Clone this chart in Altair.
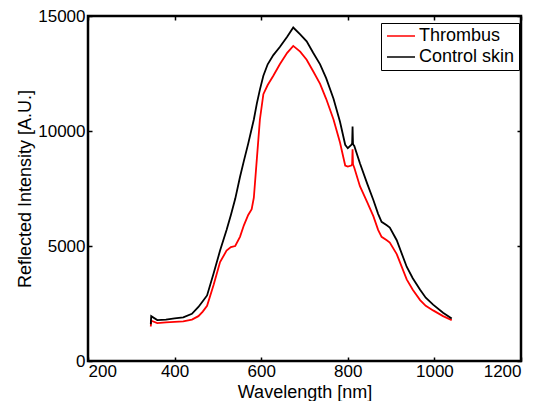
import altair as alt
import pandas as pd

# Values
wavelength = [345, 346, 360, 380, 400, 420, 440, 455, 465, 475, 490, 505, 520, 530,
              540, 551, 560, 570, 578, 583, 590, 597, 605, 615, 628, 643, 660, 674,
              690, 705, 720, 736, 750, 767, 782, 794, 800, 808, 810, 811, 812, 813,
              815, 828, 845, 859, 870, 878, 890, 897, 913, 936, 950, 967, 980, 997,
              1020, 1040]
thrombus = [1500, 1750, 1650, 1680, 1700, 1720, 1800, 1950, 2150, 2400, 3300, 4300, 4800, 4950,
            5000, 5400, 5900, 6350, 6600, 7100, 8800, 10500, 11600, 12000, 12400, 12900, 13400, 13700,
            13450, 13100, 12600, 12050, 11400, 10500, 9500, 8500, 8450, 8500, 8550, 9200, 8550, 8500,
            8400, 7600, 6900, 6300, 5700, 5400, 5250, 5150, 4650, 3550, 3100, 2650, 2400, 2200,
            1950, 1780]
control_skin = [1600, 1950, 1780, 1800, 1850, 1900, 2050, 2350, 2600, 2850, 3800, 4800, 5700, 6350,
                7050, 8000, 8700, 9450, 10100, 10500, 11200, 11800, 12400, 12900, 13300, 13650, 14100, 14500,
                14200, 13900, 13400, 12900, 12300, 11400, 10400, 9400, 9250, 9400, 9450, 10200, 9450, 9400,
                9350, 8600, 7700, 7000, 6400, 6050, 5900, 5800, 5250, 4100, 3600, 3100, 2750, 2450,
                2100, 1850]
series_names = ["Thrombus", "Control skin"]
series_colors = ["#ff0000", "#000000"]
x_ticks = [200, 400, 600, 800, 1000, 1200]
y_ticks = [0, 5000, 10000, 15000]

rows = []
for name, vals in zip(series_names, [thrombus, control_skin]):
    for w, v in zip(wavelength, vals):
        rows.append({"Wavelength": w, "Intensity": v, "Series": name})
df = pd.DataFrame(rows)

FONT = "Liberation Sans"
x_scale = alt.Scale(domain=[200, 1200], nice=False, zero=False)
y_scale = alt.Scale(domain=[0, 15000], nice=False)

lines = alt.Chart(df).mark_line(strokeWidth=1.8).encode(
    x=alt.X("Wavelength:Q", scale=x_scale,
            axis=alt.Axis(title="Wavelength [nm]", values=x_ticks, orient="bottom",
                          offset=-4, tickSize=4, domain=False, grid=False,
                          labelPadding=2, titlePadding=4, format="d")),
    y=alt.Y("Intensity:Q", scale=y_scale,
            axis=alt.Axis(title="Reflected Intensity [A.U.]", values=y_ticks, orient="left",
                          offset=-4, tickSize=4, domain=False, grid=False,
                          labelPadding=3, titlePadding=3, format="d")),
    color=alt.Color("Series:N",
                    scale=alt.Scale(domain=series_names, range=series_colors),
                    legend=alt.Legend(title=None, orient="none", legendX=293, legendY=7,
                                      symbolType="M-1,0L3,0", symbolSize=196,
                                      symbolStrokeWidth=1.5, labelFontSize=18,
                                      labelFont=FONT, labelColor="black",
                                      strokeColor="black", fillColor="white",
                                      padding=4, rowPadding=3, labelOffset=16)),
)

ticks = alt.Chart(df).mark_line(opacity=0).encode(
    x=alt.X("Wavelength:Q", scale=x_scale,
            axis=alt.Axis(title=None, values=x_ticks, orient="top", offset=-4, tickSize=4,
                          labels=False, domain=False, grid=False)),
    y=alt.Y("Intensity:Q", scale=y_scale,
            axis=alt.Axis(title=None, values=y_ticks, orient="right", offset=-4, tickSize=4,
                          labels=False, domain=False, grid=False)),
    detail="Series:N",
)

chart = alt.layer(lines, ticks).resolve_axis(
    x="independent", y="independent"
).properties(
    width=433, height=345,
    padding={"left": 80, "top": 8, "right": 13, "bottom": 40},
    autosize=alt.AutoSizeParams(type="none"),
).configure_view(
    stroke="black", strokeWidth=2.5
).configure_axis(
    labelFont=FONT, titleFont=FONT, labelFontSize=17, titleFontSize=18,
    titleFontWeight="normal", labelColor="black", titleColor="black",
    tickColor="black", tickWidth=1.5,
)

chart.save("out.html", embed_options={"renderer": "svg", "actions": False})
